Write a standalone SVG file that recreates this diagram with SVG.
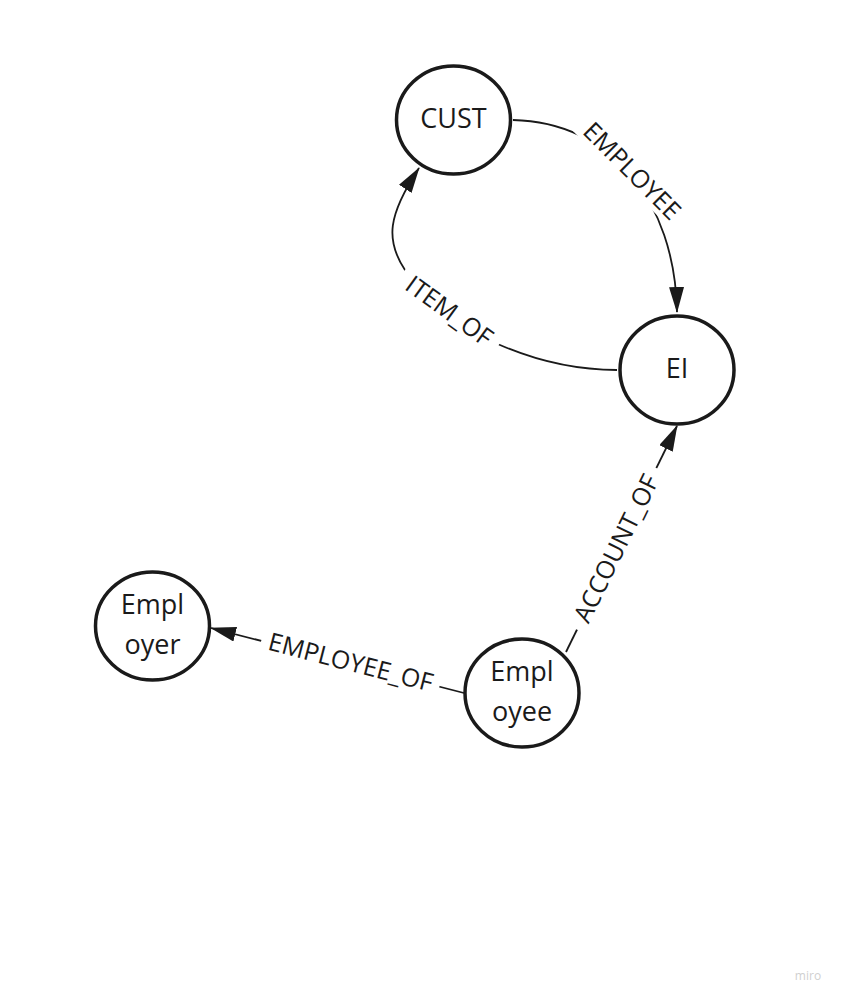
<svg xmlns="http://www.w3.org/2000/svg" width="841" height="999" viewBox="0 0 841 999">
<style>
.node ellipse{fill:#fff;stroke:#1a1a1a;stroke-width:3.5}
.node text{font-family:"Open Sans","Noto Sans",sans-serif;font-size:27px;fill:#1a1a1a;text-anchor:middle}
.edge{fill:none;stroke:#1a1a1a;stroke-width:1.8}
.bg{fill:#fff}
.lbl{font-family:"Open Sans","Noto Sans",sans-serif;font-size:25px;fill:#1a1a1a;text-anchor:middle;dominant-baseline:central}
</style>
<defs>
<marker id="arr" markerUnits="userSpaceOnUse" markerWidth="27" markerHeight="15" refX="25" refY="7.5" orient="auto">
<path d="M0,0 L26,7.5 L0,15 z" fill="#1a1a1a"/>
</marker>
</defs>
<rect width="841" height="999" fill="#fff"/>
<g id="connectors">
<path class="edge" d="M513,120 C610,122 675,200 677,312" marker-end="url(#arr)"/>
<g transform="translate(633,170) rotate(45)"><rect class="bg" x="-82" y="-15" width="164" height="30"/><text class="lbl">EMPLOYEE</text></g>
<path class="edge" d="M617,370 C570,370 530,358 500,345 C470,332 425,300 405,270 C385,240 388,215 419,168" marker-end="url(#arr)"/>
<g transform="translate(450,310) rotate(36)"><rect class="bg" x="-60" y="-14" width="120" height="28"/><text class="lbl">ITEM_OF</text></g>
<path class="edge" d="M566,652 L677,426" marker-end="url(#arr)"/>
<g transform="translate(615,548) rotate(-63.8)"><rect class="bg" x="-90" y="-14" width="180" height="28"/><text class="lbl">ACCOUNT_OF</text></g>
<path class="edge" d="M464,693 L211,628" marker-end="url(#arr)"/>
<g transform="translate(351,661) rotate(14.5)"><rect class="bg" x="-92" y="-14" width="184" height="28"/><text class="lbl">EMPLOYEE_OF</text></g>
</g>
<g id="node-cust" class="node"><ellipse cx="453.5" cy="120" rx="57" ry="54"/><text x="453.5" y="128">CUST</text></g>
<g id="node-ei" class="node"><ellipse cx="677" cy="370" rx="57" ry="54"/><text x="677" y="378">EI</text></g>
<g id="node-employer" class="node"><ellipse cx="152.5" cy="626" rx="57" ry="54"/><text x="152.5" y="614">Empl</text><text x="152.5" y="654">oyer</text></g>
<g id="node-employee" class="node"><ellipse cx="522" cy="693" rx="57" ry="54"/><text x="522" y="681">Empl</text><text x="522" y="721">oyee</text></g>
<text x="808" y="980" font-family="'Open Sans',sans-serif" font-size="12" fill="#d0d0d0" text-anchor="middle">miro</text>
</svg>
